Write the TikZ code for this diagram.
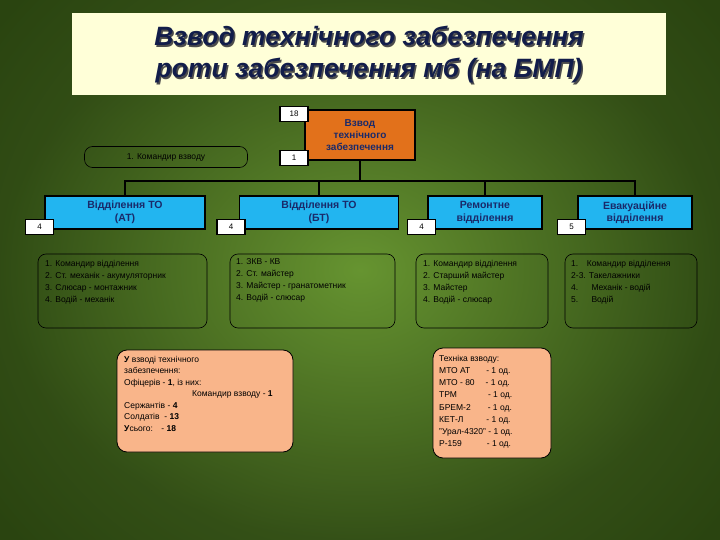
\documentclass[tikz,border=0pt]{standalone}
\usepackage{fontspec}
\setmainfont{Liberation Sans}
\definecolor{bgc}{HTML}{5E8E25}
\definecolor{bge}{HTML}{2A4410}
\definecolor{orng}{HTML}{E2711B}
\definecolor{blu}{HTML}{22B5F0}
\definecolor{peach}{HTML}{F9B58A}
\definecolor{ttl}{HTML}{FFFFD8}
\definecolor{navy}{HTML}{1A2A6A}
\tikzset{
 num/.style={draw=black,line width=1.2pt,fill=white,minimum width=28pt,minimum height=15pt,inner sep=0pt,font=\fontsize{8}{9}\selectfont},
 bluebox/.style={draw=black,line width=1.5pt,fill=blu,inner sep=0pt,align=center,font=\bfseries\fontsize{10.5}{12.5}\selectfont,text=navy},
 listbox/.style={draw=black,rounded corners=8pt,line width=0.6pt,inner sep=0pt},
 peachbox/.style={draw=black,rounded corners=10pt,line width=0.8pt,fill=peach,inner sep=0pt},
 lst/.style={anchor=north west,align=left,inner sep=0pt,font=\fontsize{8.5}{12}\selectfont},
 conn/.style={line width=1.5pt,draw=black}
}
\begin{document}
\begin{tikzpicture}[x=1pt,y=-1pt]
\useasboundingbox (0,0) rectangle (720,540);
\shade[inner color=bgc!85!white!90!bgc,outer color=bge] (-100,-150) rectangle (820,690);
\shade[inner color=bgc,outer color=bge,opacity=0.6] (0,0) rectangle (720,540);
% title
\node[fill=ttl,minimum width=594pt,minimum height=82pt,inner sep=0pt] (title) at (369,54) {};
\node[align=center,font=\bfseries\itshape\fontsize{26.5}{32}\selectfont,text=gray!60!black] at (370.5,56.5) {Взвод технічного забезпечення\\роти забезпечення мб (на БМП)};
\node[align=center,font=\bfseries\itshape\fontsize{26.5}{32}\selectfont,text=navy!70!black] at (369,55) {Взвод технічного забезпечення\\роти забезпечення мб (на БМП)};
% top box
\node[draw=black,line width=1.5pt,fill=orng,minimum width=110pt,minimum height=50pt,inner sep=0pt,align=center,font=\bfseries\fontsize{10}{12}\selectfont,text=navy] (top) at (360,135) {Взвод\\технічного\\забезпечення};
\node[num] (n18) at (294,114) {18};
\node[num] (n1) at (294,158) {1};
\node[listbox,minimum width=163pt,minimum height=21pt,font=\fontsize{8.5}{10}\selectfont] (cmd) at (166,157) {1. Командир взводу};
% blue boxes
\node[bluebox,minimum width=160pt,minimum height=33pt] (at) at (125,212.5) {Відділення ТО\\(АТ)};
\node[bluebox,minimum width=159pt,minimum height=33pt] (bt) at (319,212.5) {Відділення ТО\\(БТ)};
\node[bluebox,minimum width=114pt,minimum height=33pt] (rem) at (485,212.5) {Ремонтне\\відділення};
\node[bluebox,minimum width=114pt,minimum height=33pt] (ev) at (635,212.5) {Евакуаційне\\відділення};
\coordinate (j) at (360,181);
\draw[conn] (top.south) -- (j);
\draw[conn] (at.north) |- (j) -| (ev.north);
\draw[conn] (bt.north) -- (bt.north|-j);
\draw[conn] (rem.north) -- (rem.north|-j);
\node[num] (a4) at (39.5,227) {4};
\node[num] (b4) at (231,227) {4};
\node[num] (r4) at (421.5,227) {4};
\node[num] (e5) at (571.5,227) {5};
% list boxes
\node[listbox,minimum width=169pt,minimum height=74pt] (l1) at (122.5,291) {};
\node[listbox,minimum width=165pt,minimum height=74pt] (l2) at (312.5,291) {};
\node[listbox,minimum width=132pt,minimum height=74pt] (l3) at (482,291) {};
\node[listbox,minimum width=132pt,minimum height=74pt] (l4) at (631,291) {};
\node[lst] (t1) at (45,260) {1. Командир відділення\\2. Ст. механік - акумуляторник\\3. Слюсар - монтажник\\4. Водій - механік};
\node[lst] (t2) at (236,258) {1. ЗКВ - КВ\\2. Ст. майстер\\3. Майстер - гранатометник\\4. Водій - слюсар};
\node[lst] (t3) at (423,260) {1. Командир відділення\\2. Старший майстер\\3. Майстер\\4. Водій - слюсар};
\node[lst] (t4) at (571,260) {1.\quad Командир відділення\\2-3. Такелажники\\4.\quad\ \ Механік - водій\\5.\quad\ \ Водій};
% peach boxes
\node[peachbox,minimum width=176pt,minimum height=102pt] (p1) at (205,401) {};
\node[lst,font=\fontsize{8.5}{11.5}\selectfont] (pt1) at (124,356) {\textbf{У} взводі технічного\\забезпечення:\\Офіцерів - \textbf{1}, із них:\\\hspace*{68pt}Командир взводу - \textbf{1}\\Сержантів - \textbf{4}\\Солдатів\ \ - \textbf{13}\\\textbf{У}сього:\quad - \textbf{18}};
\node[peachbox,minimum width=118pt,minimum height=110pt] (p2) at (492,403) {};
\node[lst,font=\fontsize{8.5}{12.2}\selectfont] (pt2) at (439,355) {Техніка взводу:\\МТО АТ\hspace{16pt}- 1 од.\\МТО - 80\hspace{11pt}- 1 од.\\ТРМ\hspace{31pt}- 1 од.\\БРЕМ-2\hspace{17pt}- 1 од.\\КЕТ-Л\hspace{23pt}- 1 од.\\"Урал-4320" - 1 од.\\Р-159\hspace{25pt}- 1 од.};
\end{tikzpicture}
\end{document}
